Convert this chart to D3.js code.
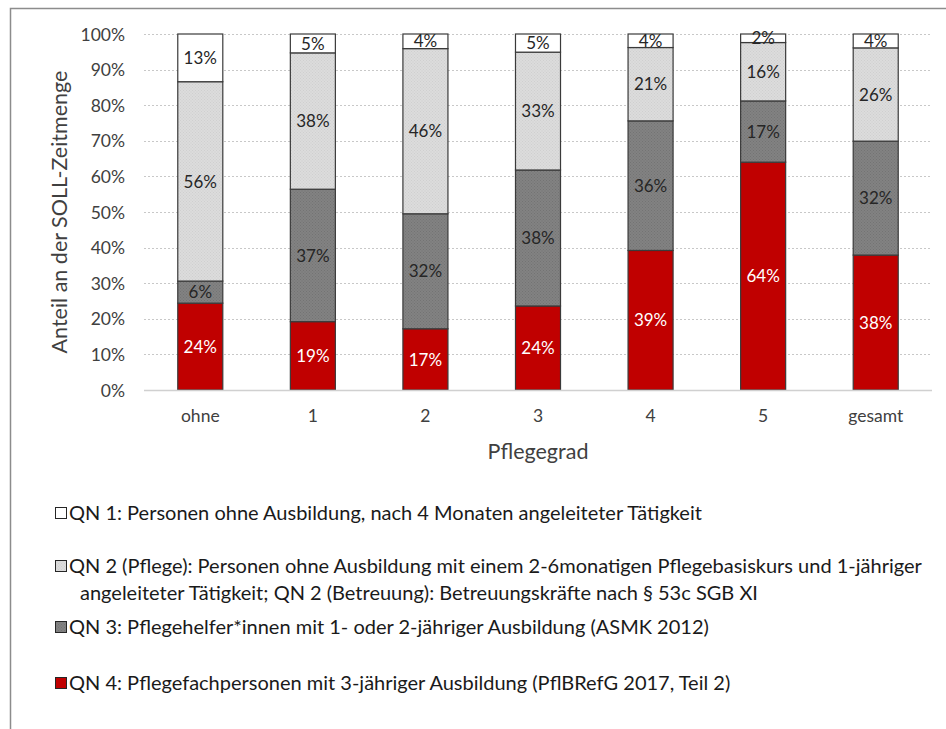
<!DOCTYPE html>
<html>
<head>
<meta charset="utf-8">
<script src="https://cdn.jsdelivr.net/npm/d3@7"></script>
<style>
  html, body { margin: 0; padding: 0; background: #fff; }
  svg { display: block; font-family: Lato, "Open Sans", sans-serif; }
</style>
</head>
<body>
<svg id="chart" width="946" height="729"></svg>
<script>
// ---- data ----
const categories = ["ohne", "1", "2", "3", "4", "5", "gesamt"];
const qn4 = [24.4, 19.2, 17.2, 23.6, 39.2, 64.0, 37.9];
const qn3 = [6.2, 37.2, 32.3, 38.2, 36.4, 17.2, 32.0];
const qn2 = [56.0, 38.3, 46.4, 33.1, 20.6, 16.4, 26.2];
const qn1 = [13.4, 5.3, 4.1, 5.1, 3.8, 2.4, 3.9];
const yTicks = [0, 10, 20, 30, 40, 50, 60, 70, 80, 90, 100];
const seriesKeys = ["qn4", "qn3", "qn2", "qn1"];
const seriesColors = { qn4: "#C00000", qn3: "#808080", qn2: "#D9D9D9", qn1: "#FFFFFF" };
const labelColors = { qn4: "#FFFFFF", qn3: "#262626", qn2: "#262626", qn1: "#262626" };
const legendItems = [
  { key: "qn1", lines: ["QN 1: Personen ohne Ausbildung, nach 4 Monaten angeleiteter Tätigkeit"] },
  { key: "qn2", lines: ["QN 2 (Pflege): Personen ohne Ausbildung mit einem 2-6monatigen Pflegebasiskurs und 1-jähriger",
                        "angeleiteter Tätigkeit; QN 2 (Betreuung): Betreuungskräfte nach § 53c SGB XI"] },
  { key: "qn3", lines: ["QN 3: Pflegehelfer*innen mit 1- oder 2-jähriger Ausbildung (ASMK 2012)"] },
  { key: "qn4", lines: ["QN 4: Pflegefachpersonen mit 3-jähriger Ausbildung (PflBRefG 2017, Teil 2)"] }
];
const xTitle = "Pflegegrad";
const yTitle = "Anteil an der SOLL-Zeitmenge";

const table = categories.map((c, i) => ({ cat: c, qn4: qn4[i], qn3: qn3[i], qn2: qn2[i], qn1: qn1[i] }));

// ---- layout ----
const svg = d3.select("#chart");
const plot = { left: 144, right: 932, top: 34, bottom: 390 };

// outer frame
svg.append("path")
  .attr("d", "M10.5,729 L10.5,8.5 L946,8.5")
  .attr("fill", "none").attr("stroke", "#8C8C8C").attr("stroke-width", 1.5);

// patterns
const defs = svg.append("defs");
function dotPattern(id, base, dot) {
  const p = defs.append("pattern").attr("id", id).attr("patternUnits", "userSpaceOnUse")
    .attr("width", 3).attr("height", 3);
  p.append("rect").attr("width", 3).attr("height", 3).attr("fill", base);
  p.append("rect").attr("x", 0).attr("y", 0).attr("width", 1).attr("height", 1).attr("fill", dot);
  p.append("rect").attr("x", 1.5).attr("y", 1.5).attr("width", 1).attr("height", 1).attr("fill", dot);
}
dotPattern("pat-qn2", "#DCDCDC", "#CFCFCF");
dotPattern("pat-qn3", "#828282", "#737373");
const fillOf = k => k === "qn2" ? "url(#pat-qn2)" : k === "qn3" ? "url(#pat-qn3)" : seriesColors[k];

const x = d3.scaleBand().domain(categories).range([plot.left, plot.right]).paddingInner(0.6).paddingOuter(0.3);
const y = d3.scaleLinear().domain([0, 100]).range([plot.bottom, plot.top]);

// gridlines
svg.append("g").selectAll("line").data(yTicks.filter(t => t > 0)).join("line")
  .attr("x1", plot.left).attr("x2", plot.right)
  .attr("y1", d => Math.round(y(d)) + 0.5).attr("y2", d => Math.round(y(d)) + 0.5)
  .attr("stroke", "#C8C8C8").attr("stroke-width", 1).attr("stroke-dasharray", "2,2");

// y axis labels
const yAxis = d3.axisLeft(y).tickValues(yTicks).tickFormat(d => d + "%").tickSize(0).tickPadding(0);
const yg = svg.append("g").attr("transform", `translate(${plot.left - 19},0)`).call(yAxis);
yg.select(".domain").remove();
yg.selectAll("text").attr("font-size", 17.5).attr("fill", "#404040").attr("font-family", "Lato, sans-serif").attr("dy", "0.35em");

// stacked bars
const stack = d3.stack().keys(seriesKeys);
const stacked = stack(table);
const layers = svg.append("g").selectAll("g").data(stacked).join("g");
layers.selectAll("rect").data(d => d.map(v => ({ key: d.key, v }))).join("rect")
  .attr("x", d => x(d.v.data.cat))
  .attr("width", x.bandwidth())
  .attr("y", d => y(d.v[1]))
  .attr("height", d => y(d.v[0]) - y(d.v[1]))
  .attr("fill", d => fillOf(d.key))
  .attr("stroke", "#3A3A3A").attr("stroke-width", 1.2);

// x axis line
svg.append("line").attr("x1", plot.left).attr("x2", plot.right)
  .attr("y1", plot.bottom + 0.5).attr("y2", plot.bottom + 0.5)
  .attr("stroke", "#D0D0D0").attr("stroke-width", 1.5);

// data labels
layers.selectAll("text").data(d => d.map(v => ({ key: d.key, v }))).join("text")
  .attr("x", d => x(d.v.data.cat) + x.bandwidth() / 2)
  .attr("y", d => (y(d.v[0]) + y(d.v[1])) / 2)
  .attr("dy", "0.36em")
  .attr("text-anchor", "middle")
  .attr("font-size", 17)
  .attr("fill", d => labelColors[d.key])
  .text(d => Math.round(d.v[1] - d.v[0]) + "%");

// x axis labels
const xAxis = d3.axisBottom(x).tickSize(0).tickPadding(0);
const xg = svg.append("g").attr("transform", `translate(0,${plot.bottom + 20})`).call(xAxis);
xg.select(".domain").remove();
xg.selectAll("text").attr("font-size", 17.5).attr("fill", "#404040").attr("font-family", "Lato, sans-serif").attr("dy", "0.71em");

// axis titles
svg.append("text").attr("x", (plot.left + plot.right) / 2).attr("y", 459)
  .attr("text-anchor", "middle").attr("font-size", 21.5).attr("fill", "#404040").text(xTitle);
svg.append("text").attr("transform", "translate(67,212) rotate(-90)")
  .attr("text-anchor", "middle").attr("font-size", 21.5).attr("fill", "#404040").text(yTitle);

// legend
const legendY = [513, 566, 627, 683];
const lg = svg.append("g");
legendItems.forEach((item, i) => {
  const g = lg.append("g").attr("transform", `translate(55,${legendY[i]})`);
  g.append("rect").attr("x", 0.5).attr("y", -5.5).attr("width", 11).attr("height", 11)
    .attr("fill", fillOf(item.key)).attr("stroke", "#262626").attr("stroke-width", 1);
  item.lines.forEach((ln, j) => {
    g.append("text").attr("x", j === 0 ? 14 : 25).attr("y", j * 27).attr("dy", "0.35em")
      .attr("font-size", 20).attr("fill", "#1A1A1A").text(ln);
  });
});
</script>
</body>
</html>
